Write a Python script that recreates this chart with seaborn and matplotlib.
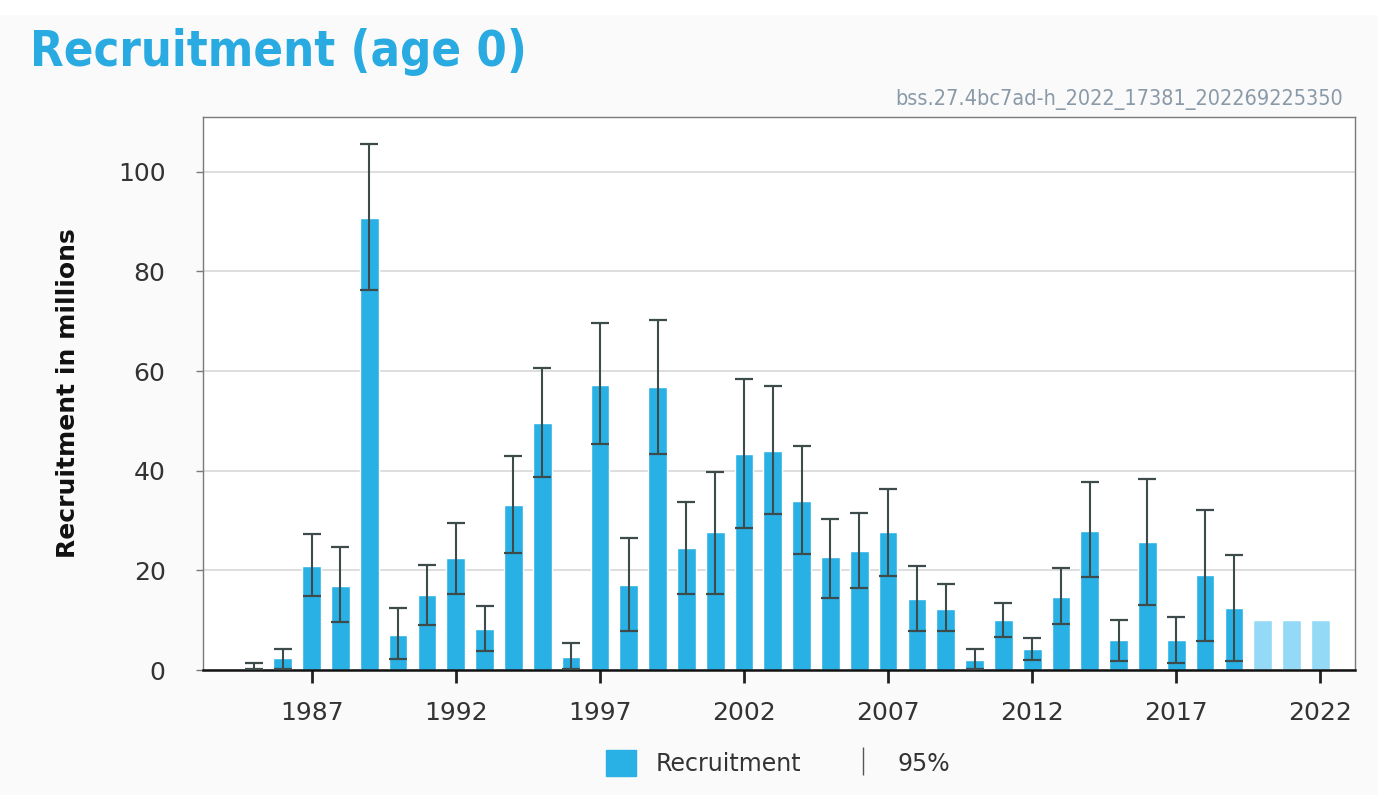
import numpy as np
import pandas as pd
import matplotlib
matplotlib.use("Agg")
import matplotlib.pyplot as plt
import matplotlib.patches as mpatches
import matplotlib.lines as mlines
import seaborn as sns

years = list(range(1985, 2023))
recruitment = [0.7, 2.4, 20.9, 16.9, 90.8, 7.1, 15.0, 22.4, 8.3, 33.1,
               49.6, 2.7, 57.3, 17.0, 56.8, 24.4, 27.7, 43.4, 44.0, 34.0,
               22.6, 23.8, 27.7, 14.2, 12.3, 2.0, 10.0, 4.2, 14.7, 28.0,
               6.0, 25.6, 6.0, 19.0, 12.4, 10.0, 10.0, 10.0]
upper = [1.4, 4.3, 27.3, 24.7, 105.5, 12.4, 21.1, 29.5, 12.9, 42.9,
         60.6, 5.5, 69.7, 26.4, 70.2, 33.7, 39.7, 58.4, 57.1, 44.9,
         30.3, 31.5, 36.3, 20.9, 17.3, 4.3, 13.4, 6.4, 20.4, 37.8,
         10.0, 38.3, 10.6, 32.2, 23.0, None, None, None]
lower = [0.2, 0.2, 14.8, 9.7, 76.3, 2.2, 9.0, 15.3, 3.8, 23.5,
         38.8, 0.2, 45.3, 7.9, 43.4, 15.3, 15.3, 28.6, 31.4, 23.2,
         14.5, 16.5, 18.9, 7.8, 7.8, 0.2, 6.7, 2.0, 9.2, 18.6,
         1.9, 13.0, 1.5, 5.9, 1.9, None, None, None]
kind = ["estimate"] * 35 + ["projection"] * 3
xticks = [1987, 1992, 1997, 2002, 2007, 2012, 2017, 2022]
yticks = [0, 20, 40, 60, 80, 100]

BLUE = "#29b1e5"
LIGHT = "#94daf6"
ERR = "#3e4b4b"

df = pd.DataFrame({"year": years, "rec": recruitment, "kind": kind})

sns.set_theme(style="white")
plt.rcParams['font.family'] = ['DejaVu Sans']

fig = plt.figure(figsize=(13.78, 7.95), dpi=100, facecolor="#fafafa")
fig.patches.append(mpatches.Rectangle((0, 1 - 15/795), 1, 15/795,
                                      transform=fig.transFigure,
                                      facecolor="white", edgecolor="none"))
ax = fig.add_axes([203/1378, (795-670)/795, (1355-203)/1378, (670-117)/795])
ax.set_facecolor("white")

sns.barplot(data=df, x="year", y="rec", hue="kind", native_scale=True,
            palette={"estimate": BLUE, "projection": LIGHT}, dodge=False,
            width=0.65, legend=False, ax=ax, saturation=1, errorbar=None)

est = df[df.kind == "estimate"]
lo = np.array(lower[:35], dtype=float)
hi = np.array(upper[:35], dtype=float)
val = est["rec"].to_numpy()
ax.errorbar(est["year"], val, yerr=[val - lo, hi - val], fmt="none",
            ecolor=ERR, elinewidth=1.5, capsize=6.5, capthick=1.6, zorder=5)

ax.set_xlim(1983.23, 2023.2)
ax.set_ylim(0, 111)
ax.set_xticks(xticks)
ax.set_xticklabels([str(t) for t in xticks])
ax.set_yticks(yticks)
ax.yaxis.grid(True, color="#d8d8d8", linewidth=1.2)
ax.set_axisbelow(True)

for s in ["top", "right", "left"]:
    ax.spines[s].set_color("#7a7a7a")
    ax.spines[s].set_linewidth(1.0)
ax.spines["bottom"].set_color("#111111")
ax.spines["bottom"].set_linewidth(1.8)

ax.tick_params(axis="x", bottom=True, length=9, width=2, color="#222222",
               pad=13, labelsize=18, labelcolor="#333333")
ax.tick_params(axis="y", left=True, length=5, width=1, color="#7a7a7a",
               pad=22, labelsize=18, labelcolor="#333333")

ax.set_xlabel("")
ax.set_ylabel("Recruitment in millions", fontsize=18, fontweight="bold",
              color="#111111")
ax.yaxis.set_label_coords(-0.107, 0.5)

fig.text(30/1378, 1 - 52/795, "Recruitment (age 0)", fontsize=35,
         fontweight="bold", color="#29abe2", va="center", ha="left",
         fontstretch="condensed")
fig.text(1343/1378, 1 - 100/795, "bss.27.4bc7ad-h_2022_17381_202269225350",
         fontsize=15.5, color="#8a9aa8", va="center", ha="right",
         fontstretch="condensed")

h1 = mpatches.Patch(color=BLUE, label="Recruitment")
h2 = mlines.Line2D([], [], color="#555555", marker="|", markersize=20,
                   linestyle="None", label="95%")
fig.legend(handles=[h1, h2], loc="center", bbox_to_anchor=(778/1378, 1 - 763/795),
           ncol=2, frameon=False, fontsize=17, handlelength=1.3,
           handleheight=1.3, columnspacing=2.0, labelcolor="#333333")

fig.savefig("out.png", dpi=100, facecolor=fig.get_facecolor())
